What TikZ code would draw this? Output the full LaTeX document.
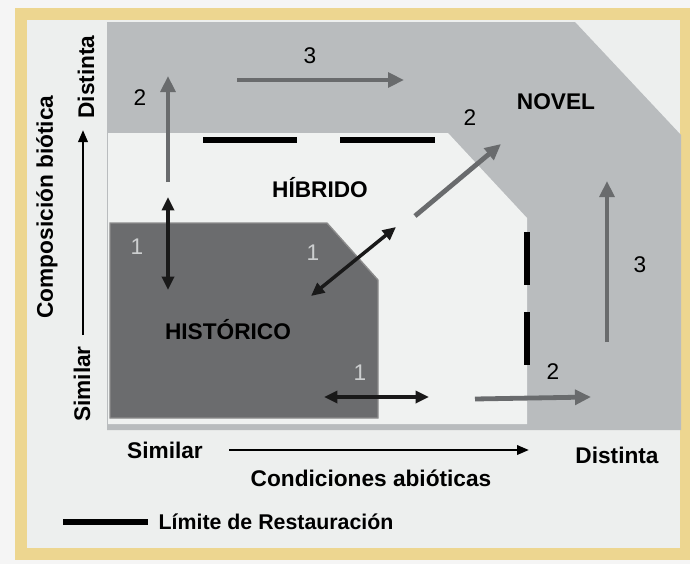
\documentclass[tikz,border=0pt]{standalone}
\usepackage{fontspec}
\setmainfont{Liberation Sans}
\usetikzlibrary{arrows.meta}
\definecolor{frameyel}{HTML}{EDD690}
\definecolor{paper}{HTML}{EDEFEE}
\definecolor{novelgr}{HTML}{B9BCBE}
\definecolor{hibgr}{HTML}{F0F2F1}
\definecolor{histgr}{HTML}{6B6C6E}
\definecolor{arrgr}{HTML}{696B6D}
\definecolor{onegr}{HTML}{CDCFD0}
\begin{document}
\begin{tikzpicture}[x=0.75pt, y=-0.75pt, font=\fontsize{17}{20}\selectfont]
	\tikzset{
	  lbl/.style={font=\fontsize{17}{20}\selectfont\bfseries},
	  num/.style={font=\fontsize{17}{20}\selectfont},
	  one/.style={num, text=onegr},
	  garrow/.style={draw=arrgr, line width=3.6pt, -{Triangle[length=12pt, width=11pt]}},
	  barrow/.style={draw=black!90, line width=2.6pt, {Triangle[length=10pt, width=9pt]}-{Triangle[length=10pt, width=9pt]}},
	  limit/.style={draw=black, line width=3.8pt},
	}
	\useasboundingbox (0,0) rectangle (690,564);
	\fill[white!96!black] (0,0) rectangle (690,564);
	\draw[frameyel, line width=8.5pt, fill=paper] (21,14) rectangle (686,554);

	% regions
	\fill[novelgr] (107,22) -- (575,22) -- (681,135) -- (681,430) -- (107,430) -- cycle;
	\fill[hibgr] (108,133) -- (448,133) -- (527,218) -- (527,424) -- (108,424) -- cycle;
	\filldraw[fill=histgr, draw=black!45, line width=1pt] (110,223) -- (327,223) -- (378,280) -- (378,418) -- (110,418) -- cycle;

	\node[lbl] (hib) at (320,188) {HÍBRIDO};
	\node[lbl] (his) at (228,330) {HISTÓRICO};
	\node[lbl] (nov) at (556,102) {NOVEL};

	% restoration limit
	\foreach \a/\b in {203/297, 340/435} {
	    \draw[limit] (\a,140) -- (\b,140);
	    }
	\foreach \a/\b in {232/285, 312/365} {
	    \draw[limit] (527,\a) -- (527,\b);
	    }

	% trajectories
	\coordinate (u1) at (168,182);  \coordinate (u2) at (168,76);
	\coordinate (r1) at (237,80);   \coordinate (r2) at (404,80);
	\coordinate (d1) at (415,216);  \coordinate (d2) at (501,144);
	\coordinate (v1) at (607,342);  \coordinate (v2) at (607,181);
	\coordinate (h1) at (475,399);  \coordinate (h2) at (591,397);
	\foreach \s/\t in {u1/u2, r1/r2, d1/d2, v1/v2, h1/h2} {
	    \draw[garrow] (\s) -- (\t);
	    }
	\coordinate (p1) at (168,197);  \coordinate (p2) at (168,290);
	\coordinate (q1) at (311,296);  \coordinate (q2) at (396,227);
	\coordinate (s1) at (324,397);  \coordinate (s2) at (429,397);
	\foreach \s/\t in {p1/p2, q1/q2, s1/s2} {
	    \draw[barrow] (\s) -- (\t);
	    }

	\node[num] (n2a) at (140,98) {2};
	\node[num] (n3a) at (310,56) {3};
	\node[num] (n2b) at (470,118) {2};
	\node[num] (n3b) at (640,265) {3};
	\node[num] (n2c) at (553,372) {2};
	\node[one] (n1a) at (137,247) {1};
	\node[one] (n1b) at (313,253) {1};
	\node[one] (n1c) at (360,373) {1};

	% axes
	\coordinate (y1) at (83,335);  \coordinate (y2) at (83,130);
	\coordinate (x1) at (229,450); \coordinate (x2) at (529,450);
	\draw[line width=1.8pt, -{Triangle[length=9pt, width=7pt]}] (y1) -- (y2);
	\draw[line width=1.8pt, -{Triangle[length=9pt, width=7pt]}] (x1) -- (x2);
	\node[lbl, rotate=90] (ysim) at (82,384) {Similar};
	\node[lbl, rotate=90] (ydis) at (86,77) {Distinta};
	\node[lbl, rotate=90] (ytit) at (47,207) {Composición biótica};
	\node[lbl] (xsim) at (165,450) {Similar};
	\node[lbl] (xdis) at (617,455) {Distinta};
	\node[lbl] (xtit) at (371,478) {Condiciones abióticas};

	% legend
	\coordinate (l1) at (63,522); \coordinate (l2) at (148,522);
	\draw[limit] (l1) -- (l2);
	\node[lbl, anchor=west, font=\fontsize{16}{19}\selectfont\bfseries] (leg) at (154,522) {Límite de Restauración};
\end{tikzpicture}
\end{document}
